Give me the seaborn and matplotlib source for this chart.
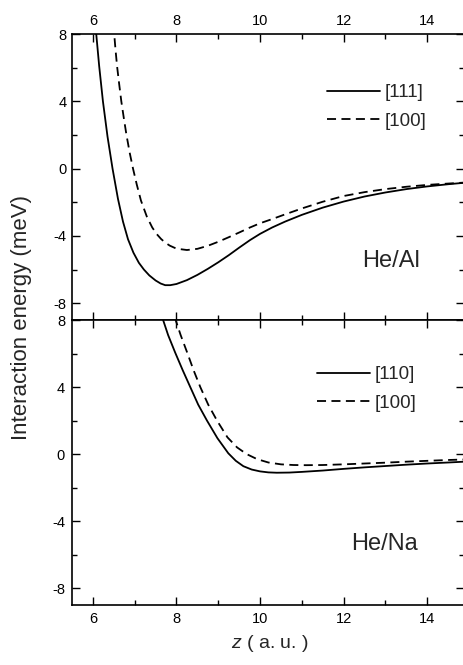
import matplotlib
matplotlib.use("Agg")
import matplotlib.pyplot as plt
import seaborn as sns
from matplotlib.ticker import MultipleLocator

# ---- data ----
al_111_x = [6.05, 6.08, 6.15, 6.24, 6.35, 6.47, 6.6, 6.72, 6.84, 6.97, 7.1, 7.22, 7.35,
            7.5, 7.62, 7.73, 7.85, 8.0, 8.25, 8.5, 8.75, 9.0, 9.25, 9.5, 9.76, 10.0, 10.29,
            10.6, 11.0, 11.5, 12.0, 12.5, 13.0, 13.5, 14.0, 14.5, 14.9]
al_111_y = [8.8, 8.0, 6.1, 4.0, 1.9, 0.0, -1.8, -3.15, -4.2, -5.0, -5.6, -6.0, -6.35,
            -6.65, -6.83, -6.93, -6.93, -6.86, -6.63, -6.32, -5.96, -5.57, -5.15, -4.7, -4.25,
            -3.88, -3.5, -3.15, -2.75, -2.32, -1.96, -1.66, -1.42, -1.22, -1.06, -0.93, -0.84]
al_100_x = [6.48, 6.51, 6.54, 6.58, 6.63, 6.68, 6.74, 6.8, 6.88, 6.96, 7.05, 7.15, 7.29, 7.42,
            7.53, 7.63, 7.73, 7.84, 8.0, 8.25, 8.5, 8.75, 9.0, 9.25, 9.5, 9.76, 10.0, 10.29,
            10.6, 11.0, 11.5, 12.0, 12.5, 13.0, 13.5, 14.0, 14.5, 14.9]
al_100_y = [8.6, 8.0, 7.1, 6.05, 5.0, 4.0, 3.0, 2.05, 0.95, 0.0, -0.95, -1.9, -2.85, -3.5,
            -3.9, -4.18, -4.4, -4.58, -4.76, -4.84, -4.77, -4.59, -4.35, -4.08, -3.8, -3.5,
            -3.25, -3.0, -2.72, -2.37, -1.97, -1.63, -1.4, -1.22, -1.08, -0.97, -0.89, -0.83]

na_110_x = [7.66, 7.68, 7.8, 7.97, 8.15, 8.33, 8.52, 8.73, 8.98, 9.24, 9.42, 9.6, 9.8, 10.0,
            10.2, 10.4, 10.7, 11.0, 11.5, 12.0, 12.5, 13.0, 13.5, 14.0, 14.5, 14.9]
na_110_y = [8.2, 8.0, 7.1, 6.05, 5.0, 4.0, 2.95, 2.0, 0.95, 0.05, -0.4, -0.72, -0.92, -1.03,
            -1.09, -1.11, -1.1, -1.06, -0.98, -0.88, -0.79, -0.71, -0.63, -0.56, -0.5, -0.45]
na_100_x = [7.96, 7.98, 8.1, 8.25, 8.41, 8.57, 8.76, 8.97, 9.22, 9.45, 9.68, 9.93, 10.2,
            10.5, 10.8, 11.1, 11.5, 12.0, 12.5, 13.0, 13.5, 14.0, 14.5, 14.9]
na_100_y = [8.2, 8.0, 7.1, 6.1, 5.0, 4.0, 2.95, 2.0, 1.0, 0.4, 0.0, -0.3, -0.5,
            -0.61, -0.65, -0.66, -0.65, -0.61, -0.56, -0.51, -0.45, -0.4, -0.35, -0.32]

x_ticks = [6, 8, 10, 12, 14]
y_ticks = [-8, -4, 0, 4, 8]

sns.set_theme(style="ticks")
plt.rcParams['font.family'] = ['Liberation Sans', 'DejaVu Sans']
plt.rcParams['mathtext.fontset'] = 'custom'
plt.rcParams['mathtext.it'] = 'Liberation Sans:italic'
plt.rcParams['mathtext.rm'] = 'Liberation Sans'
plt.rcParams['axes.unicode_minus'] = False

W, H = 464, 665
fig = plt.figure(figsize=(W / 100, H / 100), dpi=100)

def frac(px_l, px_t, px_r, px_b):
    return [px_l / W, 1 - px_b / H, (px_r - px_l) / W, (px_b - px_t) / H]

ax1 = fig.add_axes(frac(72, 34, 464, 320))
ax2 = fig.add_axes(frac(72, 320, 464, 605))

dash = (0, (5, 3))
lw = 1.3
sns.lineplot(x=al_111_x, y=al_111_y, ax=ax1, color='black', lw=lw, sort=False,
             estimator=None, label='[111]')
sns.lineplot(x=al_100_x, y=al_100_y, ax=ax1, color='black', lw=lw, sort=False,
             estimator=None, linestyle=dash, label='[100]')
sns.lineplot(x=na_110_x, y=na_110_y, ax=ax2, color='black', lw=lw, sort=False,
             estimator=None, label='[110]')
sns.lineplot(x=na_100_x, y=na_100_y, ax=ax2, color='black', lw=lw, sort=False,
             estimator=None, linestyle=dash, label='[100]')

for ax in (ax1, ax2):
    ax.set_xlim(5.5, 14.88)
    ax.set_ylim(-9, 8)
    ax.set_xticks(x_ticks)
    ax.set_yticks(y_ticks)
    ax.xaxis.set_minor_locator(MultipleLocator(1))
    ax.yaxis.set_minor_locator(MultipleLocator(2))
    ax.tick_params(which='both', direction='in', top=True, right=True,
                   colors='black', labelsize=10.5, width=1.0)
    ax.tick_params(which='major', length=6)
    ax.tick_params(which='minor', length=3.5)
    for s in ax.spines.values():
        s.set_linewidth(1.2)
        s.set_color('black')
    ax.set_xlabel('')
    ax.set_ylabel('')

ax1.tick_params(labeltop=True, labelbottom=False, pad=4)
ax2.tick_params(labeltop=False, labelbottom=True, pad=5)

leg_kw = dict(frameon=False, fontsize=13.5, handlelength=2.85, handletextpad=0.2,
              labelspacing=0.6, borderpad=0, borderaxespad=0, loc='center left')
ax1.legend(bbox_to_anchor=(0.6505, 0.745), **leg_kw)
ax2.legend(bbox_to_anchor=(0.625, 0.758), **leg_kw)

ax1.text(0.74, 0.206, 'He/Al', transform=ax1.transAxes, fontsize=17,
         ha='left', va='center')
ax2.text(0.712, 0.214, 'He/Na', transform=ax2.transAxes, fontsize=17,
         ha='left', va='center')

fig.text(22 / W, 1 - 318 / H, 'Interaction energy (meV)', rotation=90,
         ha='center', va='center', fontsize=16)
fig.text(270 / W, 1 - 644 / H, r'$z$ ( a. u. )', ha='center', va='center', fontsize=14)

fig.savefig('out.png', dpi=100)
